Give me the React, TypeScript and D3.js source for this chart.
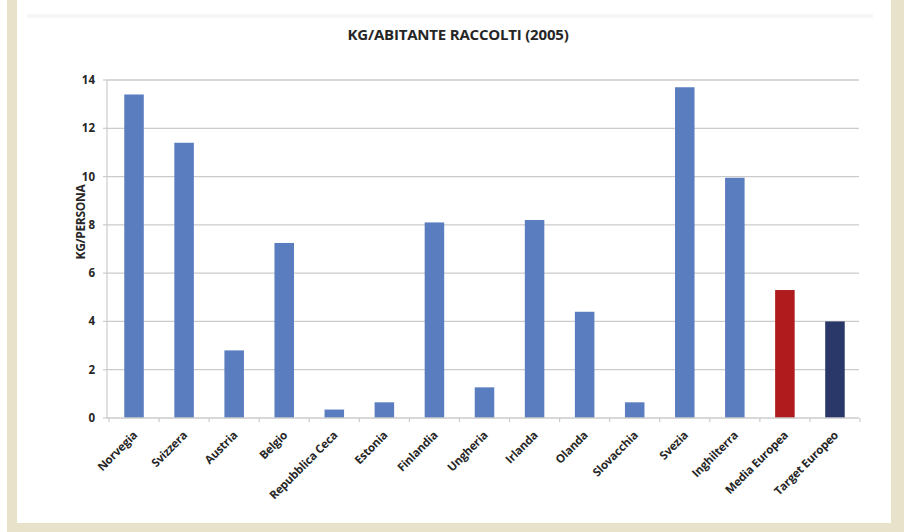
import React from "react";
import * as d3 from "d3";

// Collected waste per inhabitant, 2005 (kg per person)
const categories: string[] = [
  "Norvegia",
  "Svizzera",
  "Austria",
  "Belgio",
  "Repubblica Ceca",
  "Estonia",
  "Finlandia",
  "Ungheria",
  "Irlanda",
  "Olanda",
  "Slovacchia",
  "Svezia",
  "Inghilterra",
  "Media Europea",
  "Target Europeo",
];
const values: number[] = [13.4, 11.4, 2.8, 7.25, 0.35, 0.65, 8.1, 1.27, 8.2, 4.4, 0.65, 13.7, 9.95, 5.3, 4.0];
const yTicks: number[] = [0, 2, 4, 6, 8, 10, 12, 14];
const title = "KG/ABITANTE RACCOLTI (2005)";
const yTitle = "KG/PERSONA";

const W = 904;
const H = 532;
const BLUE = "#5a7dc0";
const RED = "#b01c1e";
const NAVY = "#2a3869";
const FRAME = "#e8e2cb";
const GRID = "#cbcbcb";
const TEXT = "#262626";
const FONT = "'Open Sans', 'DejaVu Sans', sans-serif";

const barFill = (c: string) => (c === "Media Europea" ? RED : c === "Target Europeo" ? NAVY : BLUE);

export default function App() {
  const x = d3.scaleBand<string>().domain(categories).range([109, 860]).paddingInner(0.61).paddingOuter(0.305);
  const step = x.step();
  const y = d3.scaleLinear().domain([0, 14]).range([418, 80]);
  const plotLeft = 107;
  const plotRight = 859;

  return (
    <svg
      width={W}
      height={H}
      viewBox={`0 0 ${W} ${H}`}
      style={{ position: "absolute", left: 0, top: 0, display: "block", background: "#ffffff" }}
    >
      {/* page frame */}
      <rect x={7} y={0} width={10} height={H} fill={FRAME} />
      <rect x={891} y={0} width={13} height={H} fill={FRAME} />
      <rect x={7} y={523} width={W - 7} height={9} fill={FRAME} />
      <rect x={27} y={14} width={846} height={4} fill="#f6f6f6" />

      {/* title */}
      <text
        x={458}
        y={40}
        textAnchor="middle"
        fontFamily={FONT}
        fontWeight={700}
        fontSize={15}
        letterSpacing={-0.2}
        fill={TEXT}
      >
        {title}
      </text>

      {/* gridlines */}
      {yTicks.filter((t) => t > 0).map((t) => (
        <line key={t} x1={plotLeft} x2={plotRight} y1={y(t)} y2={y(t)} stroke={GRID} strokeWidth={1.3} />
      ))}

      {/* y axis */}
      <line x1={plotLeft} x2={plotLeft} y1={y(14)} y2={y(0)} stroke={GRID} strokeWidth={1.2} />
      {yTicks.map((t) => (
        <g key={`yt${t}`}>
          <line x1={plotLeft - 4} x2={plotLeft} y1={y(t)} y2={y(t)} stroke={GRID} strokeWidth={1.2} />
          <text
            x={95}
            y={y(t)}
            dy="0.35em"
            textAnchor="end"
            fontFamily={FONT}
            fontWeight={700}
            fontSize={11.5}
            fill={TEXT}
          >
            {t}
          </text>
        </g>
      ))}
      <text
        transform={`translate(85, 222) rotate(-90)`}
        textAnchor="middle"
        fontFamily={FONT}
        fontWeight={700}
        fontSize={12}
        letterSpacing={-0.3}
        fill={TEXT}
      >
        {yTitle}
      </text>

      {/* bars */}
      {categories.map((c, i) => (
        <rect
          key={c}
          x={x(c)!}
          y={y(values[i])}
          width={x.bandwidth()}
          height={y(0) - y(values[i])}
          fill={barFill(c)}
        />
      ))}

      {/* x axis */}
      <line x1={plotLeft} x2={plotRight} y1={y(0)} y2={y(0)} stroke={GRID} strokeWidth={1.3} />
      {d3.range(categories.length + 1).map((k) => {
        const xx = 109 + k * step;
        return <line key={`xt${k}`} x1={xx} x2={xx} y1={y(0)} y2={y(0) + 4} stroke={GRID} strokeWidth={1.2} />;
      })}
      {categories.map((c) => {
        const cx = x(c)! + x.bandwidth() / 2;
        return (
          <text
            key={`l${c}`}
            transform={`translate(${cx + 4}, ${y(0) + 18}) rotate(-45)`}
            textAnchor="end"
            fontFamily={FONT}
            fontWeight={700}
            fontSize={11.5}
            letterSpacing={-0.2}
            fill={TEXT}
          >
            {c}
          </text>
        );
      })}
    </svg>
  );
}
